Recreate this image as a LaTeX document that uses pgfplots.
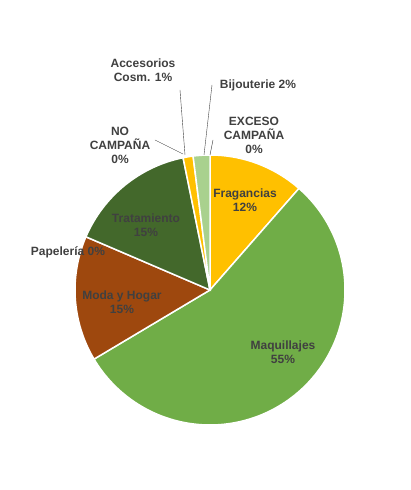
\documentclass[border=0pt]{standalone}
\usepackage{pgfplots}
\pgfplotsset{compat=1.18}
\usepackage{fontspec}
\setmainfont{Liberation Sans}
\definecolor{lab}{HTML}{404040}
\begin{document}
\begin{tikzpicture}
\begin{axis}[width=410pt,height=490pt,scale only axis,xmin=0,xmax=410,ymin=0,ymax=490,hide axis,clip=false]
\path (axis cs:0,0) rectangle (axis cs:410,490);
% sectors: start angle, end angle (clockwise from top)
\fill[fill={rgb,255:red,255;green,192;blue,0},draw=white,line width=1.5pt] (axis cs:210,200) -- ++(90:135) arc[start angle=90,end angle=48.8,radius=135] -- cycle;
\fill[fill={rgb,255:red,112;green,173;blue,71},draw=white,line width=1.5pt] (axis cs:210,200) -- ++(48.8:135) arc[start angle=48.8,end angle=-149.2,radius=135] -- cycle;
\fill[fill={rgb,255:red,158;green,72;blue,14},draw=white,line width=1.5pt] (axis cs:210,200) -- ++(-149.2:135) arc[start angle=-149.2,end angle=-203.2,radius=135] -- cycle;
\fill[fill={rgb,255:red,67;green,104;blue,43},draw=white,line width=1.5pt] (axis cs:210,200) -- ++(156.8:135) arc[start angle=156.8,end angle=101.5,radius=135] -- cycle;
\fill[fill={rgb,255:red,255;green,192;blue,0},draw=white,line width=1.5pt] (axis cs:210,200) -- ++(101.5:135) arc[start angle=101.5,end angle=97.2,radius=135] -- cycle;
\fill[fill={rgb,255:red,169;green,209;blue,142},draw=white,line width=1.5pt] (axis cs:210,200) -- ++(97.2:135) arc[start angle=97.2,end angle=90,radius=135] -- cycle;
% leader lines
\draw[lab,thin] (axis cs:180,400) -- (axis cs:185,335);
\draw[lab,thin] (axis cs:155,350) -- (axis cs:183,336);
\draw[lab,thin] (axis cs:212,405) -- (axis cs:204,335);
\draw[lab,thin] (axis cs:213,350) -- (axis cs:210,335);
\begin{scope}[every node/.style={font=\fontsize{12}{14}\selectfont\bfseries,text=lab,align=center,inner sep=1pt}]
\node at (axis cs:245,290) {Fragancias\\12\%};
\node at (axis cs:283,138) {Maquillajes\\55\%};
\node at (axis cs:122,188) {Moda y Hogar\\15\%};
\node at (axis cs:68,238) {Papelería 0\%};
\node at (axis cs:146,265) {Tratamiento\\15\%};
\node at (axis cs:120,345) {NO\\CAMPAÑA\\0\%};
\node at (axis cs:143,420) {Accesorios\\Cosm. 1\%};
\node at (axis cs:258,405) {Bijouterie 2\%};
\node at (axis cs:254,355) {EXCESO\\CAMPAÑA\\0\%};
\end{scope}
\end{axis}
\end{tikzpicture}
\end{document}
